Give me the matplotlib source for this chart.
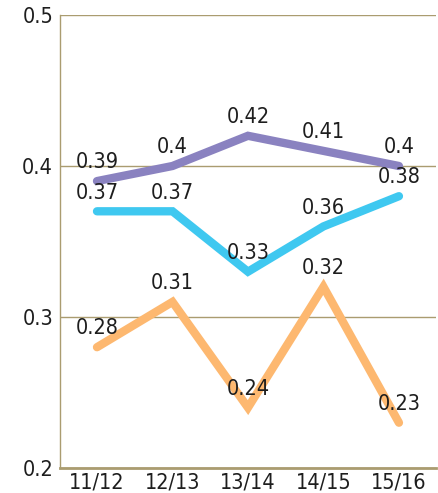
import matplotlib.pyplot as plt
import numpy as np

plt.rcParams['font.family'] = ['DejaVu Sans']
plt.rcParams['font.stretch'] = 'condensed'

seasons = ['11/12', '12/13', '13/14', '14/15', '15/16']
purple_vals = [0.39, 0.40, 0.42, 0.41, 0.40]
blue_vals = [0.37, 0.37, 0.33, 0.36, 0.38]
orange_vals = [0.28, 0.31, 0.24, 0.32, 0.23]
y_ticks = [0.2, 0.3, 0.4, 0.5]

grid_col = '#aa9c70'
fig = plt.figure(figsize=(4.39, 4.93), dpi=100)
ax = fig.add_axes([0.1367, 0.0507, 0.8563, 0.9189])

x = np.arange(len(seasons))
series = [(orange_vals, '#fdb870'), (blue_vals, '#3fc8f0'), (purple_vals, '#8a82c0')]
for vals, col in series:
    ax.plot(x, vals, color=col, lw=6, solid_capstyle='round', solid_joinstyle='miter', zorder=3)
    for xi, v in zip(x, vals):
        ax.annotate('{:g}'.format(v), (xi, v), xytext=(0, 13.5), textcoords='offset points',
                    ha='center', va='center', fontsize=15.5, color='#1e1e1e', zorder=4)

ax.set_xlim(-0.49, 4.49)
ax.set_ylim(0.2, 0.5)
ax.set_xticks(x)
ax.set_xticklabels(seasons)
ax.set_yticks(y_ticks)
ax.set_yticklabels(['{:g}'.format(t) for t in y_ticks])
ax.tick_params(length=0, labelsize=15.5, colors='#1e1e1e')
ax.tick_params(axis='y', pad=5)
ax.tick_params(axis='x', pad=3)
ax.grid(axis='y', color=grid_col, lw=1)
ax.set_axisbelow(True)
for s in ['top', 'right']:
    ax.spines[s].set_visible(False)
ax.spines['left'].set_color(grid_col)
ax.spines['bottom'].set_color(grid_col)
ax.spines['bottom'].set_linewidth(2)
ax.spines['left'].set_linewidth(1)

plt.savefig('out.png', dpi=100)
